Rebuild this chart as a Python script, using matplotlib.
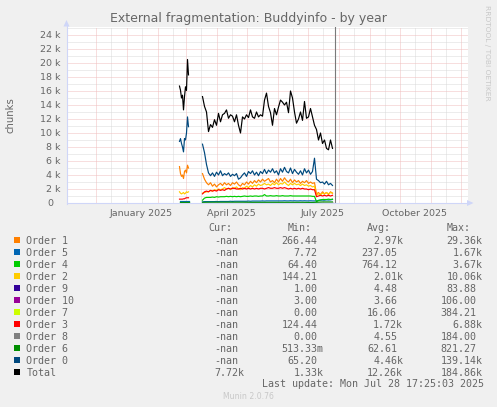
import numpy as np
import pandas as pd
from datetime import datetime

import matplotlib
matplotlib.use('Agg')
import matplotlib.pyplot as plt
import matplotlib.transforms as mtrans
from matplotlib.patches import Rectangle, Polygon

# ---- data (values in thousands of chunks) ----
seg1_dates = np.datetime64('2025-02-23') + np.arange(10)
seg2_dates = np.datetime64('2025-03-18') + np.arange(66) * 2
seg2_coarse = np.datetime64('2025-03-18') + np.arange(14) * 10

total_1 = [16.7, 16.1, 15.0, 15.4, 13.3, 15.2, 16.6, 16.1, 20.5, 18.3]
order0_1 = [8.8, 9.2, 8.5, 8.0, 7.3, 9.2, 9.0, 10.0, 12.3, 10.9]
order1_1 = [5.2, 4.2, 3.8, 4.0, 3.5, 4.5, 4.7, 4.3, 5.4, 5.0]
order2_1 = [1.6, 1.4, 1.3, 1.4, 1.5, 1.3, 1.4, 1.6, 1.5, 1.6]
order3_1 = [0.55, 0.55, 0.55, 0.55, 0.6, 0.6, 0.7, 0.75, 0.75, 0.75]
order4_1 = [0.2, 0.2, 0.2, 0.2, 0.2, 0.2, 0.2, 0.2, 0.2, 0.2]
order5_1 = [0.3, 0.3, 0.3, 0.3, 0.3, 0.3, 0.3, 0.3, 0.3, 0.3]
order6_1 = [0.12, 0.12, 0.12, 0.12, 0.12, 0.12, 0.12, 0.12, 0.12, 0.12]
order7_1 = [0.02, 0.02, 0.02, 0.02, 0.02, 0.02, 0.02, 0.02, 0.02, 0.02]
order8_1 = [0.005, 0.005, 0.005, 0.005, 0.005, 0.005, 0.005, 0.005, 0.005, 0.005]
order9_1 = [0.004, 0.004, 0.004, 0.004, 0.004, 0.004, 0.004, 0.004, 0.004, 0.004]
order10_1 = [0.004, 0.004, 0.004, 0.004, 0.004, 0.004, 0.004, 0.004, 0.004, 0.004]

total_2 = [15.2, 13.8, 13.0, 10.2, 11.2, 10.8, 11.9, 11.1, 12.8, 11.6,
           12.6, 12.8, 13.3, 12.1, 12.6, 12.4, 11.6, 12.6, 11.1, 10.0,
           12.3, 12.0, 12.6, 12.2, 13.3, 12.3, 12.1, 13.0, 12.3, 12.6,
           12.4, 14.7, 15.7, 13.8, 12.9, 11.1, 13.5, 12.6, 13.7, 14.7,
           14.4, 14.0, 14.4, 12.9, 16.0, 15.0, 13.0, 11.4, 12.0, 13.0,
           11.8, 14.5, 12.1, 12.3, 13.5, 12.3, 11.1, 10.5, 9.0, 10.0,
           8.5, 9.0, 7.8, 7.6, 9.0, 7.8]
order0_2 = [8.4, 7.2, 5.5, 4.3, 3.9, 4.3, 3.8, 4.4, 4.0, 4.6,
            3.9, 4.2, 4.0, 4.3, 3.8, 4.1, 3.9, 4.2, 3.4, 3.6,
            4.0, 4.3, 3.8, 4.5, 4.2, 4.6, 4.0, 4.4, 3.9, 4.5,
            4.2, 4.8, 4.2, 4.7, 4.4, 4.9, 4.3, 4.6, 4.0, 4.9,
            4.4, 5.1, 4.5, 4.3, 5.0, 4.2, 4.8, 4.4, 4.1, 4.6,
            4.0, 4.9, 4.3, 4.7, 4.1, 4.5, 6.4, 3.4, 3.2, 2.9,
            3.0, 2.7, 3.1, 2.6, 2.8, 2.5]
order1_2 = [4.2, 3.4, 2.9, 2.6, 2.9, 2.4, 2.7, 2.3, 2.6, 2.8,
            2.5, 2.9, 2.6, 2.8, 2.5, 2.9, 2.7, 3.0, 2.6, 2.4,
            2.8, 2.6, 3.0, 2.7, 3.1, 2.8, 3.2, 2.9, 3.3, 3.0,
            3.4, 3.1, 3.3, 3.5, 3.0, 3.2, 2.9, 3.4, 3.0, 3.5,
            3.1, 3.6, 3.2, 3.0, 3.4, 2.9, 3.3, 3.0, 3.2, 2.8,
            3.1, 2.9, 3.2, 2.8, 3.0, 2.8, 2.9, 1.3, 1.5, 1.2,
            1.6, 1.3, 1.5, 1.2, 1.6, 1.4]
order2_2 = [1.4, 1.5, 1.6, 1.6, 1.8, 1.7, 1.9, 1.8, 2.0, 1.9,
            2.0, 2.2, 2.0, 2.1, 1.9, 2.2, 2.1, 2.3, 2.0, 1.9,
            2.2, 2.1, 2.4, 2.2, 2.5, 2.3, 2.6, 2.4, 2.7, 2.5,
            2.6, 2.8, 2.6, 2.7, 2.5, 2.8, 2.6, 2.9, 2.6, 2.8,
            2.7, 3.0, 2.7, 2.5, 2.8, 2.6, 2.8, 2.6, 2.7, 2.5,
            2.7, 2.5, 2.6, 2.4, 2.5, 2.3, 2.4, 1.1, 1.3, 1.2,
            1.4, 1.3, 1.5, 1.3, 1.5, 1.4]
order3_2 = [1.3, 1.6, 1.7, 1.6, 1.8, 1.7, 1.8, 1.7, 1.9, 1.8,
            1.9, 1.8, 2.0, 2.1, 2.0, 2.1, 2.1, 2.0, 2.0, 2.1,
            2.0, 2.1, 2.0, 2.1, 2.0, 2.1, 2.0, 2.1, 2.0, 2.1,
            2.1, 2.0, 2.1, 2.2, 2.1, 2.1, 2.2, 2.1, 2.1, 2.2,
            2.1, 2.2, 2.1, 2.0, 2.1, 2.0, 2.1, 2.0, 2.1, 2.0,
            2.1, 2.0, 2.0, 1.9, 2.0, 1.9, 1.9, 0.9, 1.0, 1.1,
            1.0, 1.1, 1.0, 1.1, 1.0, 1.1]
order4_2 = [0.4, 0.7, 0.8, 0.8, 0.8, 0.85, 0.8, 0.9, 0.85, 0.9,
            0.9, 0.9, 0.95, 0.9, 0.95, 0.9, 0.95, 0.9, 0.95, 0.9,
            0.95, 1.0, 0.95, 0.95, 1.0, 0.95, 1.0, 1.0, 0.95, 1.0,
            1.0, 1.2, 1.0, 1.0, 1.05, 1.0, 1.0, 1.05, 1.0, 1.0,
            1.05, 1.0, 1.0, 1.0, 1.05, 1.0, 1.0, 1.0, 1.0, 1.0,
            1.0, 1.0, 1.0, 1.0, 1.0, 0.95, 0.95, 0.2, 0.35, 0.45,
            0.5, 0.5, 0.5, 0.55, 0.5, 0.55]
order5_2 = [0.15, 0.2, 0.2, 0.2, 0.2, 0.2, 0.2, 0.22, 0.2, 0.22,
            0.22, 0.22, 0.22, 0.22, 0.25, 0.22, 0.25, 0.25, 0.25, 0.25,
            0.25, 0.25, 0.25, 0.28, 0.25, 0.28, 0.28, 0.28, 0.28, 0.28,
            0.3, 0.28, 0.3, 0.3, 0.3, 0.3, 0.3, 0.3, 0.3, 0.3,
            0.3, 0.32, 0.3, 0.3, 0.32, 0.3, 0.32, 0.3, 0.3, 0.32,
            0.3, 0.32, 0.3, 0.3, 0.32, 0.3, 0.3, 0.3, 0.38, 0.4,
            0.42, 0.4, 0.45, 0.42, 0.45, 0.5]
order6_2 = [0.1, 0.12, 0.12, 0.12, 0.12, 0.1, 0.1, 0.1, 0.1, 0.1, 0.1, 0.08, 0.15, 0.15]
order7_2 = [0.02, 0.02, 0.02, 0.02, 0.02, 0.02, 0.02, 0.02, 0.02, 0.02, 0.02, 0.02, 0.02, 0.02]
order8_2 = [0.005, 0.005, 0.005, 0.005, 0.005, 0.005, 0.005, 0.005, 0.005, 0.005, 0.005, 0.005, 0.005, 0.005]
order9_2 = [0.004, 0.004, 0.004, 0.004, 0.004, 0.004, 0.004, 0.004, 0.004, 0.004, 0.004, 0.004, 0.004, 0.004]
order10_2 = [0.004, 0.004, 0.004, 0.004, 0.004, 0.004, 0.004, 0.004, 0.004, 0.004, 0.004, 0.004, 0.004, 0.004]

# legend table
labels = ['Order 1', 'Order 5', 'Order 4', 'Order 2', 'Order 9', 'Order 10',
          'Order 7', 'Order 3', 'Order 8', 'Order 6', 'Order 0', 'Total']
colors = ['#FF8000', '#0066B3', '#00CC00', '#FFCC00', '#330099', '#990099',
          '#CCFF00', '#FF0000', '#808080', '#008F00', '#00487D', '#000000']
cur_vals = ['-nan', '-nan', '-nan', '-nan', '-nan', '-nan',
            '-nan', '-nan', '-nan', '-nan', '-nan', '7.72k']
min_vals = ['266.44', '7.72', '64.40', '144.21', '1.00', '3.00',
            '0.00', '124.44', '0.00', '513.33m', '65.20', '1.33k']
avg_vals = ['2.97k', '237.05', '764.12', '2.01k', '4.48', '3.66',
            '16.06', '1.72k', '4.55', '62.61', '4.46k', '12.26k']
max_vals = ['29.36k', '1.67k', '3.67k', '10.06k', '83.88', '106.00',
            '384.21', '6.88k', '184.00', '821.27', '139.14k', '184.86k']

x_labels = ['January 2025', 'April 2025', 'July 2025', 'October 2025']
x_label_dates = [datetime(2025, 1, 16), datetime(2025, 4, 16),
                 datetime(2025, 7, 16), datetime(2025, 10, 16)]
y_ticks = [0, 2, 4, 6, 8, 10, 12, 14, 16, 18, 20, 22, 24]

series = {
    'Order 1': (order1_1, order1_2, seg2_dates),
    'Order 5': (order5_1, order5_2, seg2_dates),
    'Order 4': (order4_1, order4_2, seg2_dates),
    'Order 2': (order2_1, order2_2, seg2_dates),
    'Order 9': (order9_1, order9_2, seg2_coarse),
    'Order 10': (order10_1, order10_2, seg2_coarse),
    'Order 7': (order7_1, order7_2, seg2_coarse),
    'Order 3': (order3_1, order3_2, seg2_dates),
    'Order 8': (order8_1, order8_2, seg2_coarse),
    'Order 6': (order6_1, order6_2, seg2_coarse),
    'Order 0': (order0_1, order0_2, seg2_dates),
    'Total': (total_1, total_2, seg2_dates),
}

# ---- layout (pixel based, 497x407) ----
W, H = 497, 407
BG = '#F0F0F0'
FONT = '#666666'
AXIS = '#CFD6F8'
x0, x1 = 66.5, 468.0
y_top, y_zero = 27.0, 203.0

fig = plt.figure(figsize=(W / 100, H / 100), dpi=100, facecolor=BG)
ax = fig.add_axes([x0 / W, (H - y_zero) / H, (x1 - x0) / W, (y_zero - y_top) / H])
ax.set_facecolor('white')
for s in ax.spines.values():
    s.set_visible(False)
ax.set_xticks([])
ax.set_yticks([])

t_start = datetime(2024, 11, 2)
t_end = datetime(2025, 12, 8, 12)
ax.set_xlim(t_start, t_end)
ax.set_ylim(0, 25.14)

# grid (light dotted, rrdtool style)
dots = (0, (1, 1))
for d in pd.date_range('2024-11-16', '2025-11-16', freq='MS') + pd.Timedelta(days=15):
    ax.axvline(d, color='#DADADA', lw=0.72, ls=dots, zorder=1)
for v in range(1, 26, 2):
    ax.axhline(v, color='#DADADA', lw=0.72, ls=dots, zorder=1)
for d in pd.date_range('2024-12-01', '2025-12-01', freq='MS'):
    ax.axvline(d, color='#F0BEBE', lw=0.72, ls=dots, zorder=1.1)
for v in y_ticks[1:]:
    ax.axhline(v, color='#F0BEBE', lw=0.72, ls=dots, zorder=1.1)

# data lines
for i, name in enumerate(labels):
    v1, v2, d2 = series[name]
    ax.plot(seg1_dates, v1, color=colors[i], lw=0.85, zorder=2 + i * 0.01)
    ax.plot(d2, v2, color=colors[i], lw=0.85, zorder=2 + i * 0.01)

# "now" marker
ax.axvline(datetime(2025, 7, 28, 17, 25), color='#7A7A7A', lw=0.8, zorder=3)

# axis labels
px = fig.dpi_scale_trans
for lbl, d in zip(x_labels, x_label_dates):
    ax.text(d, 0, lbl, ha='center', va='baseline', fontsize=6.8, color=FONT,
            transform=ax.get_xaxis_transform() + mtrans.ScaledTranslation(0, -13.0 / 100, px),
            clip_on=False)
for v in y_ticks:
    lbl = '0' if v == 0 else f'{v} k'
    off = 13.2 if v == 0 else 6.5
    ax.text(0, v, lbl, ha='right', va='baseline', fontsize=6.8, color=FONT,
            transform=ax.get_yaxis_transform() + mtrans.ScaledTranslation(-off / 100, -3.3 / 100, px),
            clip_on=False)

# overlay in pixel coordinates
ov = fig.add_axes([0, 0, 1, 1], zorder=5)
ov.set_xlim(0, W)
ov.set_ylim(H, 0)
ov.axis('off')
ov.patch.set_alpha(0)

# axes with arrows
ov.plot([x0, 470], [y_zero, y_zero], color=AXIS, lw=0.8)
ov.plot([x0, x0], [y_zero + 1, 24], color=AXIS, lw=0.8)
ov.add_patch(Polygon([(467, 200), (473.5, 203), (467, 206)], closed=True, color=AXIS, lw=0))
ov.add_patch(Polygon([(63.5, 26.5), (x0, 20), (69.5, 26.5)], closed=True, color=AXIS, lw=0))

ov.text(248.8, 22.3, 'External fragmentation: Buddyinfo - by year', ha='center',
        va='baseline', fontsize=9, color=FONT)
ov.text(11, 115, 'chunks', rotation=90, ha='center', va='center', fontsize=7.3, color=FONT)
ov.text(487, 5, 'RRDTOOL / TOBI OETIKER', rotation=270, ha='center', va='top',
        fontsize=5.4, color='#C8C8C8')

# legend table
mono = 'DejaVu Sans Mono'
cw = 6.02
ov.text(208.3, 231, 'Cur:', family=mono, fontsize=7.2, color=FONT, va='baseline')
ov.text(287.3, 231, 'Min:', family=mono, fontsize=7.2, color=FONT, va='baseline')
ov.text(366.7, 231, 'Avg:', family=mono, fontsize=7.2, color=FONT, va='baseline')
ov.text(446.7, 231, 'Max:', family=mono, fontsize=7.2, color=FONT, va='baseline')

col_right = [238.0, 317.5, 397.3, 476.7]
for i, lbl in enumerate(labels):
    base = 243.5 + 12 * i
    ov.add_patch(Rectangle((14, base - 6.8), 6, 6, facecolor=colors[i], edgecolor='none'))
    ov.text(26.3, base, lbl, family=mono, fontsize=7.2, color=FONT, va='baseline')
    for right, vals in zip(col_right, (cur_vals, min_vals, avg_vals, max_vals)):
        s = vals[i]
        n = len(s) - 1 if s[-1] in 'km' else len(s)
        ov.text(right - cw * n, base, s, family=mono, fontsize=7.2, color=FONT, va='baseline')

ov.text(261.7, 386.8, 'Last update: Mon Jul 28 17:25:03 2025', family=mono,
        fontsize=7.2, color=FONT, va='baseline')
ov.text(248, 399.3, 'Munin 2.0.76', ha='center', va='baseline', fontsize=5.6, color='#C8C8C8')

fig.savefig('out.png', dpi=100, facecolor=BG)
